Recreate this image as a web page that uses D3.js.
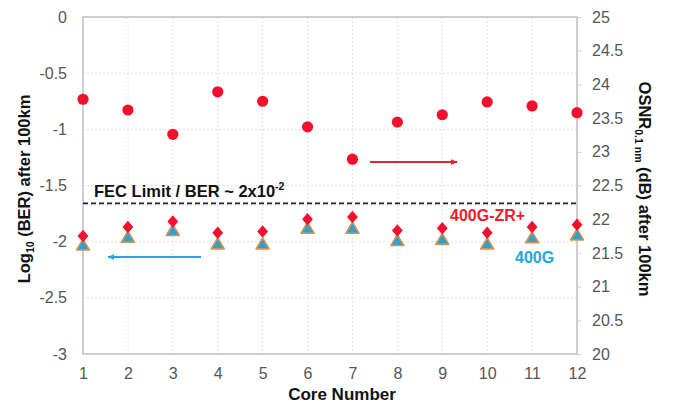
<!DOCTYPE html>
<html>
<head>
<meta charset="utf-8">
<script src="https://cdn.jsdelivr.net/npm/d3@7/dist/d3.min.js"></script>
<style>
  html, body { margin: 0; padding: 0; background: #fff; }
  svg { display: block; font-family: "Liberation Sans", Arial, sans-serif; }
</style>
</head>
<body>
<svg id="chart" width="674" height="407"></svg>
<script>
// Per-core measurements after 100 km
const cores = [1, 2, 3, 4, 5, 6, 7, 8, 9, 10, 11, 12];
const osnr = [23.78, 23.62, 23.26, 23.89, 23.75, 23.37, 22.89, 23.44, 23.55, 23.74, 23.68, 23.58];
const berZRplus = [-1.95, -1.87, -1.82, -1.92, -1.91, -1.80, -1.78, -1.90, -1.88, -1.92, -1.87, -1.85];
const ber400G = [-2.03, -1.96, -1.90, -2.02, -2.02, -1.88, -1.88, -1.99, -1.98, -2.02, -1.965, -1.94];
const fecLimit = -1.66;

const leftTicks = [0, -0.5, -1, -1.5, -2, -2.5, -3];
const rightTicks = [20, 20.5, 21, 21.5, 22, 22.5, 23, 23.5, 24, 24.5, 25];

const svg = d3.select("#chart");
const plot = { left: 83, right: 577, top: 17, bottom: 354 };

const x = d3.scaleLinear().domain([1, 12]).range([plot.left, plot.right]);
const yL = d3.scaleLinear().domain([-3, 0]).range([plot.bottom, plot.top]);
const yR = d3.scaleLinear().domain([20, 25]).range([plot.bottom, plot.top]);

// grid
const grid = svg.append("g");
grid.selectAll(".gv").data(cores).join("line")
  .attr("x1", d => x(d)).attr("x2", d => x(d))
  .attr("y1", plot.top).attr("y2", plot.bottom)
  .attr("stroke", "#e3e3e3").attr("stroke-width", 1).attr("stroke-dasharray", "2,2");
grid.selectAll(".gh").data(leftTicks).join("line")
  .attr("x1", plot.left).attr("x2", plot.right)
  .attr("y1", d => yL(d)).attr("y2", d => yL(d))
  .attr("stroke", "#e3e3e3").attr("stroke-width", 1).attr("stroke-dasharray", "2,2");

// frame
svg.append("rect")
  .attr("x", plot.left).attr("y", plot.top)
  .attr("width", plot.right - plot.left).attr("height", plot.bottom - plot.top)
  .attr("fill", "none").attr("stroke", "#c4c4c4").attr("stroke-width", 1.6);

// axes (plain hyphen minus in labels)
const plain = d => String(d);
const tickColor = "#555";
const axL = svg.append("g").attr("transform", `translate(${plot.left},0)`)
  .call(d3.axisLeft(yL).tickValues(leftTicks).tickSize(0).tickPadding(16).tickFormat(plain));
const axR = svg.append("g").attr("transform", `translate(${plot.right},0)`)
  .call(d3.axisRight(yR).tickValues(rightTicks).tickSize(4).tickPadding(11).tickFormat(plain));
const axB = svg.append("g").attr("transform", `translate(0,${plot.bottom})`)
  .call(d3.axisBottom(x).tickValues(cores).tickSize(0).tickPadding(14).tickFormat(plain));
[axL, axR, axB].forEach(a => {
  a.select(".domain").remove();
  a.selectAll(".tick line").attr("stroke", "#d0d0d0");
  a.selectAll("text").attr("fill", tickColor).style("font-size", "16px")
    .style("font-family", "'Liberation Sans', Arial, sans-serif");
});

// FEC threshold
svg.append("line")
  .attr("x1", plot.left).attr("x2", plot.right)
  .attr("y1", yL(fecLimit)).attr("y2", yL(fecLimit))
  .attr("stroke", "#222").attr("stroke-width", 1.8).attr("stroke-dasharray", "5,3");
const fecText = svg.append("text")
  .attr("x", 94).attr("y", yL(fecLimit) - 6)
  .attr("font-weight", "bold").attr("font-size", 16.5).attr("fill", "#111");
fecText.append("tspan").text("FEC Limit / BER ~ 2x10");
fecText.append("tspan").attr("font-size", 10.5).attr("dy", -7).text("-2");

// OSNR circles
svg.append("g").selectAll("circle").data(cores).join("circle")
  .attr("cx", d => x(d)).attr("cy", (d, i) => yR(osnr[i]))
  .attr("r", 5.6).attr("fill", "#f2102c");

// 400G triangles
svg.append("g").selectAll("path").data(cores).join("path")
  .attr("d", (d, i) => {
    const cx = x(d), cy = yL(ber400G[i]);
    return `M${cx},${cy - 6}L${cx + 6.5},${cy + 5}L${cx - 6.5},${cy + 5}Z`;
  })
  .attr("fill", "#2ba2d2").attr("stroke", "#d8914e").attr("stroke-width", 1.6)
  .attr("stroke-linejoin", "round");

// 400G-ZR+ diamonds
svg.append("g").selectAll("path").data(cores).join("path")
  .attr("d", (d, i) => {
    const cx = x(d), cy = yL(berZRplus[i]);
    return `M${cx},${cy - 6.2}L${cx + 5.4},${cy}L${cx},${cy + 6.2}L${cx - 5.4},${cy}Z`;
  })
  .attr("fill", "#f2102c");

// axis-pointing arrows
const defs = svg.append("defs");
function arrowHead(id, color) {
  defs.append("marker").attr("id", id)
    .attr("viewBox", "0 0 10 10").attr("refX", 9).attr("refY", 5)
    .attr("markerWidth", 3.2).attr("markerHeight", 3.2).attr("orient", "auto")
    .append("path").attr("d", "M0,1L10,5L0,9Z").attr("fill", color);
}
arrowHead("headRed", "#e8202a");
arrowHead("headBlue", "#29a6de");
svg.append("line")
  .attr("x1", 370).attr("x2", 457).attr("y1", 162).attr("y2", 162)
  .attr("stroke", "#e8202a").attr("stroke-width", 2.2).attr("marker-end", "url(#headRed)");
svg.append("line")
  .attr("x1", 201).attr("x2", 108).attr("y1", 257).attr("y2", 257)
  .attr("stroke", "#29a6de").attr("stroke-width", 2.2).attr("marker-end", "url(#headBlue)");

// series labels
svg.append("text").attr("x", 450).attr("y", 221)
  .attr("font-weight", "bold").attr("font-size", 16).attr("fill", "#ee1c2c").text("400G-ZR+");
svg.append("text").attr("x", 515).attr("y", 263)
  .attr("font-weight", "bold").attr("font-size", 16).attr("fill", "#22a8e0").text("400G");

// axis titles
svg.append("text").attr("x", 342).attr("y", 400).attr("text-anchor", "middle")
  .attr("font-weight", "bold").attr("font-size", 17).attr("fill", "#111").text("Core Number");

const lt = svg.append("text")
  .attr("transform", "translate(24,189) rotate(-90)")
  .attr("text-anchor", "middle").attr("dy", "0.35em")
  .attr("font-weight", "bold").attr("font-size", 16.5).attr("fill", "#111");
lt.append("tspan").text("Log");
lt.append("tspan").attr("font-size", 10.5).attr("dy", 4).text("10");
lt.append("tspan").attr("dy", -4).text(" (BER) after 100km");

const rt = svg.append("text")
  .attr("transform", "translate(645,189) rotate(90)")
  .attr("text-anchor", "middle").attr("dy", "0.35em")
  .attr("font-weight", "bold").attr("font-size", 16.5).attr("fill", "#111");
rt.append("tspan").text("OSNR");
rt.append("tspan").attr("font-size", 10.5).attr("dy", 4).text("0.1 nm");
rt.append("tspan").attr("dy", -4).text(" (dB) after 100km");
</script>
</body>
</html>
